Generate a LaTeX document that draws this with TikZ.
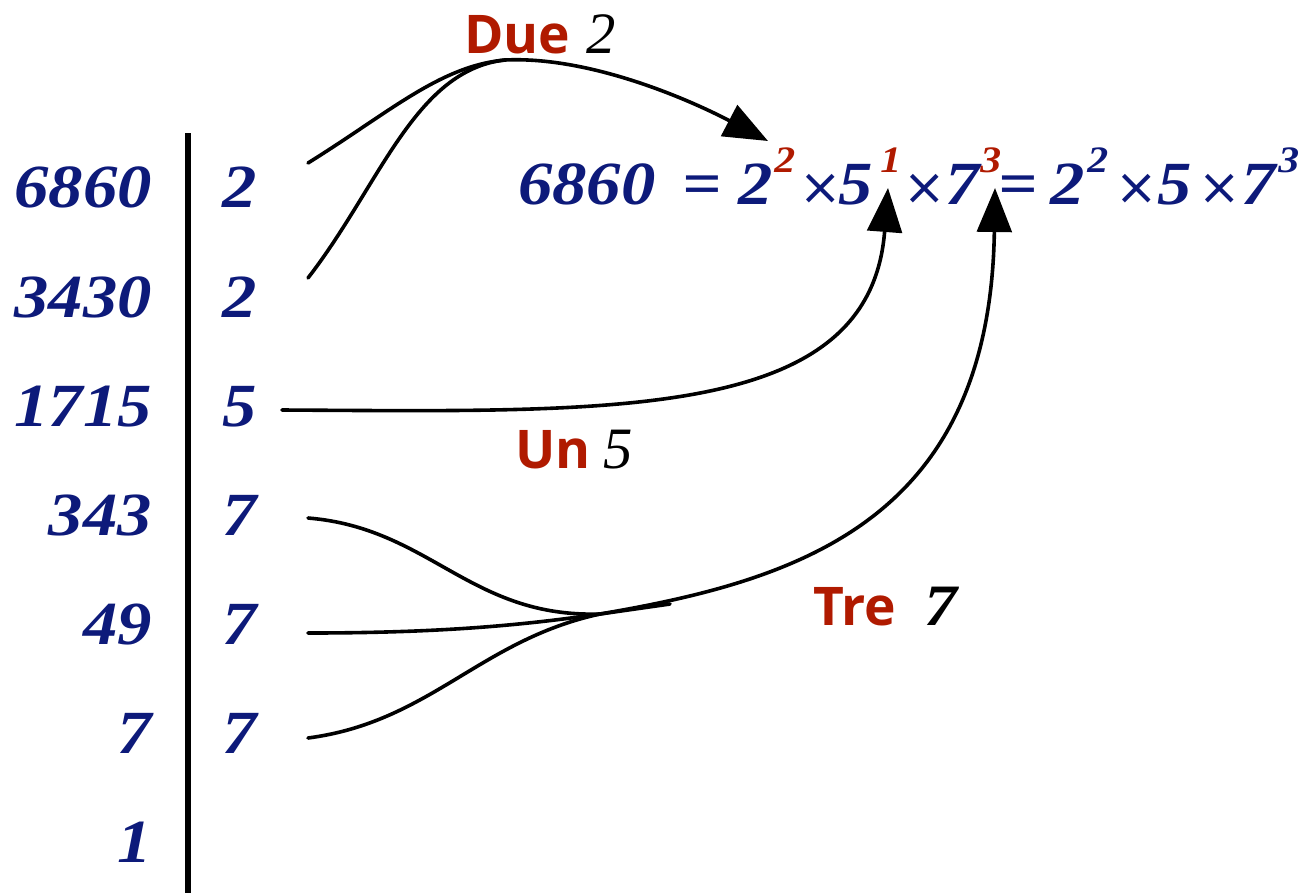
\documentclass[tikz,border=0pt]{standalone}
\usepackage{fontspec}
\usetikzlibrary{arrows.meta}
\newfontfamily\numfont[FakeStretch=1.12]{Liberation Serif}
\newfontfamily\plainnum{Liberation Serif}
\newfontfamily\timesfont{DejaVu Sans}
\newfontfamily\labfont{Open Sans}
\definecolor{navy}{HTML}{0D1A7A}
\definecolor{dred}{HTML}{B01A00}
\tikzset{
  num/.style={inner sep=0pt, text=navy, font=\numfont\bfseries\itshape\fontsize{46}{46}\selectfont},
  eqd/.style={num, anchor=base west},
  eqx/.style={inner sep=0pt, anchor=base west, text=navy, font=\timesfont\fontsize{38}{38}\selectfont},
  eqs/.style={inner sep=0pt, anchor=base west, font=\numfont\bfseries\itshape\fontsize{28}{28}\selectfont},
  lab/.style={inner sep=0pt, anchor=base west, text=dred, font=\labfont\bfseries\fontsize{40}{40}\selectfont},
  labn/.style={inner sep=0pt, anchor=base west, text=black, font=\plainnum\itshape\fontsize{44}{44}\selectfont},
  conn/.style={line width=2.7pt, line cap=round},
  arr/.style={conn, -{Triangle[length=33pt,width=26pt]}},
}
\begin{document}
\begin{tikzpicture}[x=0.75pt,y=-0.75pt]
\useasboundingbox (0,0) rectangle (1313,893);
% vertical bar
\coordinate (bartop) at (188,133);
\coordinate (barbot) at (188,893);
\draw[line width=4.5pt] (bartop) -- (barbot);
% left column
\node[num, anchor=base east] (n1) at (152,207) {6860};
\node[num, anchor=base east] (n2) at (152,317) {3430};
\node[num, anchor=base east] (n3) at (152,426) {1715};
\node[num, anchor=base east] (n4) at (152,535) {343};
\node[num, anchor=base east] (n5) at (152,644) {49};
\node[num, anchor=base east] (n6) at (152,753) {7};
\node[num, anchor=base east] (n7) at (152,862) {1};
% right column
\node[num, anchor=base] (d1) at (240,207) {2};
\node[num, anchor=base] (d2) at (240,317) {2};
\node[num, anchor=base] (d3) at (240,426) {5};
\node[num, anchor=base] (d4) at (240,535) {7};
\node[num, anchor=base] (d5) at (240,644) {7};
\node[num, anchor=base] (d6) at (240,753) {7};
% equation
\node[eqd] (e1) at (518,204) {6860};
\node[eqd] (e2) at (682,204) {=};
\node[eqd] (e3) at (738,204) {2};
\node[eqs, text=dred] (e4) at (774,172) {2};
\node[eqx] (e5) at (799,204) {×};
\node[eqd] (e6) at (838,204) {5};
\node[eqs, text=dred] (e7) at (880,172) {1};
\node[eqx] (e8) at (903,204) {×};
\node[eqd] (e9) at (945,204) {7};
\node[eqs, text=dred] (e10) at (980,172) {3};
\node[eqd] (e11) at (998,204) {=};
\node[eqd] (e12) at (1050,204) {2};
\node[eqs, text=navy] (e13) at (1087,172) {2};
\node[eqx] (e14) at (1115,204) {×};
\node[eqd] (e15) at (1157,204) {5};
\node[eqx] (e16) at (1198,204) {×};
\node[eqd] (e17) at (1241,204) {7};
\node[eqs, text=navy] (e18) at (1278,172) {3};
% labels
\node[lab] (due) at (464,53) {Due};
\node[labn] (due2) at (586,53) {2};
\node[lab] (un) at (515,468) {Un};
\node[labn] (un5) at (603,468) {5};
\node[lab] (tre) at (813,625) {Tre};
\node[labn, font=\numfont\bfseries\itshape\fontsize{44}{44}\selectfont] (tre7) at (924,625) {7};
% connector points
\coordinate (s1) at (308,163);
\coordinate (s2) at (308,278);
\coordinate (s3) at (282,410);
\coordinate (s4) at (308,518);
\coordinate (s5) at (308,633);
\coordinate (s6) at (308,738);
\coordinate (m1) at (505,60);
\coordinate (m3) at (600,614);
\coordinate (stub) at (670,604);
\coordinate (t1) at (768,141);
\coordinate (t2) at (888,188);
\coordinate (t3) at (995,188);
% twos
\draw[conn] (s1) .. controls (390,112) and (440,66) .. (m1);
\draw[conn] (s2) .. controls (380,185) and (415,70) .. (m1);
\draw[arr] (m1) .. controls (590,56) and (690,100) .. (t1);
% five
\draw[arr] (s3) .. controls (620,412) and (870,420) .. (t2);
% sevens
\draw[conn] (s4) .. controls (430,528) and (470,618) .. (m3);
\draw[conn] (s5) .. controls (450,633) and (530,624) .. (m3);
\draw[conn] (s6) .. controls (430,722) and (480,640) .. (m3);
\draw[conn] (m3) -- (stub);
\draw[arr] (m3) .. controls (800,580) and (990,520) .. (t3);
\end{tikzpicture}
\end{document}
